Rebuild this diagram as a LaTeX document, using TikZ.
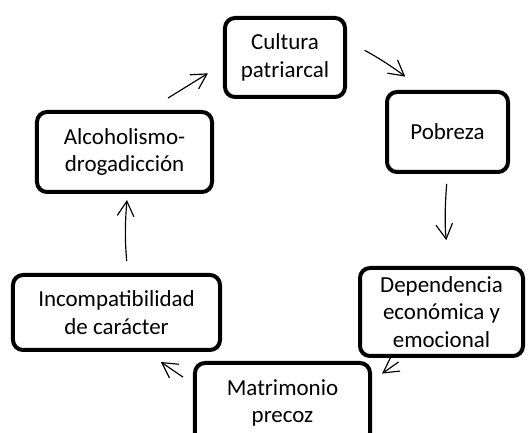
\documentclass[tikz,border=0pt]{standalone}
\usepackage{fontspec}
\setmainfont{Carlito}
\usepackage{tikz}
\usetikzlibrary{positioning}
\usetikzlibrary{calc}
\usetikzlibrary{arrows.meta}

\tikzset{
  box/.style={draw, line width=0.12cm, rounded corners=0.3cm, align=center, inner sep=0pt,
    font=\fontsize{19.6}{23.5}\selectfont},
  arr/.style={-{Straight Barb[length=0.45cm,width=0.5cm]}, line width=0.035cm}
}

\begin{document}
\begin{tikzpicture}[x=0.03cm,y=-0.03cm]
\useasboundingbox (0,0) rectangle (529,433);
\node[box, minimum width=3.6cm, minimum height=2.37cm](cultura) at (285,57.5){Cultura\\patriarcal};
\node[box, minimum width=3.63cm, minimum height=2.4cm](pobreza) at (447.5,132){Pobreza};
\node[box, minimum width=4.89cm, minimum height=2.64cm](dependencia) at (441.5,312){Dependencia\\econ\'omica y\\emocional};
\node[box, minimum width=5.25cm, minimum height=2.4cm](matrimonio) at (282.5,403){Matrimonio\\precoz};
\node[box, minimum width=6.21cm, minimum height=2.25cm](incompat) at (116.5,312.5){Incompatibilidad\\de car\'acter};
\node[box, minimum width=5.25cm, minimum height=2.4cm](alcohol) at (124.5,152){Alcoholismo-\\drogadicci\'on};


\path
(cultura.15) edge[arr, bend left=5, shorten <=0.6cm, shorten >=0.65cm] (pobreza.121)
(pobreza.south) edge[arr, bend right=6, shorten <=0.3cm, shorten >=0.78cm] (dependencia.80)
(dependencia.231) edge[arr, shorten <=0.21cm, shorten >=0.37cm] (matrimonio.14)
(matrimonio.168) edge[arr, shorten <=0.36cm, shorten >=0.53cm] (incompat.307)
(incompat.74) edge[arr, bend left=5, shorten <=0.36cm, shorten >=0.18cm] (alcohol.274)
(alcohol.60) edge[arr, shorten <=0.68cm, shorten >=0.53cm] (cultura.186);
\end{tikzpicture}
\end{document}
